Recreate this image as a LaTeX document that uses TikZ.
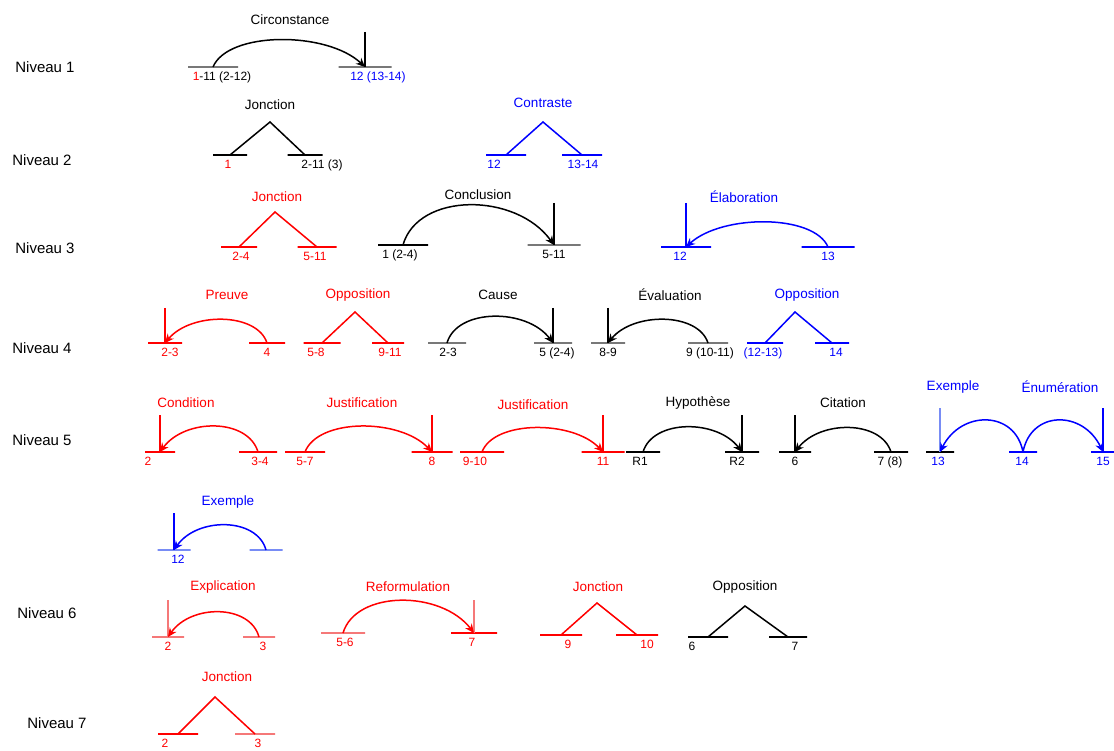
\documentclass[tikz,border=0pt]{standalone}
\usepackage{fontspec}
\setmainfont{Liberation Sans}
\usepackage{tikz}
\usetikzlibrary{arrows.meta}
\definecolor{lgray}{RGB}{120,120,120}
\definecolor{lred}{RGB}{245,120,120}
\definecolor{lblue}{RGB}{120,140,245}
\tikzset{
  lvl/.style={font=\fontsize{15}{17}\selectfont},
  rel/.style={font=\fontsize{13.5}{15}\selectfont},
  seg/.style={font=\fontsize{12}{14}\selectfont,anchor=north,inner sep=1pt},
  bar/.style={draw,line width=1.8pt,minimum width=#1,minimum height=0pt,inner sep=0pt},
  nuc/.style={line width=1.9pt},
  arc/.style={-{Stealth[length=9pt,width=8pt]},line width=1.5pt},
  tri/.style={line width=1.5pt},
}

\begin{document}
\begin{tikzpicture}[x=1pt,y=-1pt]
\useasboundingbox (0,0) rectangle (1114,751);

\node[lvl] (n1) at (45,67) {Niveau 1};
\node[lvl] (n2) at (42,160) {Niveau 2};
\node[lvl] (n3) at (45,248) {Niveau 3};
\node[lvl] (n4) at (42,348) {Niveau 4};
\node[lvl] (n5) at (42,440) {Niveau 5};
\node[lvl] (n6) at (47,613) {Niveau 6};
\node[lvl] (n7) at (57,723) {Niveau 7};

% niveau 1
\node[rel] (r1) at (290,20) {Circonstance};
\node[bar=50pt,lgray] (b1a) at (213,67) {};
\node[bar=53pt,lgray] (b1b) at (365,67) {};
\coordinate (v1) at (365,32);
\draw[nuc] (v1) -- (b1b.center);
\draw[arc] (b1a.center) .. controls +(15,-36) and +(-38,-36) .. (b1b.center);
\node[seg] (g1a) at (222,71) {\textcolor{red}{1}-11 (2-12)};
\node[seg,blue] (g1b) at (378,71) {12 (13-14)};

% niveau 2
\node[rel] (r2a) at (270,105) {Jonction};
\node[bar=34pt] (b2a) at (230,155) {};
\node[bar=35pt] (b2b) at (305,155) {};
\coordinate (p2a) at (270,122);
\draw[tri] (b2a.center) -- (p2a) -- (b2b.center);
\node[seg,red] (g2a) at (228,159) {1};
\node[seg] (g2b) at (322,159) {2-11 (3)};

\node[rel,blue] (r2b) at (543,103) {Contraste};
\node[bar=40pt,blue] (b2c) at (506,155) {};
\node[bar=40pt,blue] (b2d) at (582,155) {};
\coordinate (p2b) at (543,122);
\draw[tri,blue] (b2c.center) -- (p2b) -- (b2d.center);
\node[seg,blue] (g2c) at (494,159) {12};
\node[seg,blue] (g2d) at (583,159) {13-14};

% niveau 3
\node[rel,red] (r3a) at (277,197) {Jonction};
\node[bar=36pt,red] (b3a) at (239,247) {};
\node[bar=39pt,red] (b3b) at (317,247) {};
\coordinate (p3a) at (275,212);
\draw[tri,red] (b3a.center) -- (p3a) -- (b3b.center);
\node[seg,red] (g3a) at (241,251) {2-4};
\node[seg,red] (g3b) at (315,251) {5-11};

\node[rel] (r3b) at (478,195) {Conclusion};
\node[bar=50pt] (b3c) at (403,245) {};
\node[bar=53pt,lgray] (b3d) at (554,245) {};
\coordinate (v3b) at (554,203);
\draw[nuc] (v3b) -- (b3d.center);
\draw[arc] (b3c.center) .. controls +(15,-53) and +(-38,-53) .. (b3d.center);
\node[seg] (g3c) at (400,249) {1 (2-4)};
\node[seg] (g3d) at (554,249) {5-11};

\node[rel,blue] (r3c) at (744,197) {Élaboration};
\node[bar=50pt,blue] (b3e) at (686,247) {};
\node[bar=53pt,blue] (b3f) at (828,247) {};
\coordinate (v3c) at (686,203);
\draw[nuc,blue] (v3c) -- (b3e.center);
\draw[arc,blue] (b3f.center) .. controls +(-14,-33) and +(36,-33) .. (b3e.center);
\node[seg,blue] (g3e) at (680,251) {12};
\node[seg,blue] (g3f) at (828,251) {13};

% niveau 4
\node[rel,red] (r4a) at (227,295) {Preuve};
\node[bar=34pt,red] (b4a) at (165,343) {};
\node[bar=36pt,red] (b4b) at (267,343) {};
\coordinate (v4a) at (165,308);
\draw[nuc,red] (v4a) -- (b4a.center);
\draw[arc,red] (b4b.center) .. controls +(-10,-31) and +(26,-31) .. (b4a.center);
\node[seg,red] (g4a) at (170,347) {2-3};
\node[seg,red] (g4b) at (267,347) {4};

\node[rel,red] (r4b) at (358,295) {Opposition};
\node[bar=37pt,red] (b4c) at (322,343) {};
\node[bar=32pt,red] (b4d) at (388,343) {};
\coordinate (p4b) at (355,312);
\draw[tri,red] (b4c.center) -- (p4b) -- (b4d.center);
\node[seg,red] (g4c) at (316,347) {5-8};
\node[seg,red] (g4d) at (390,347) {9-11};

\node[rel] (r4c) at (498,295) {Cause};
\node[bar=38pt,lgray] (b4e) at (447,343) {};
\node[bar=38pt,lgray] (b4f) at (553,343) {};
\coordinate (v4c) at (553,308);
\draw[nuc] (v4c) -- (b4f.center);
\draw[arc] (b4e.center) .. controls +(10,-35) and +(-26,-35) .. (b4f.center);
\node[seg] (g4e) at (448,347) {2-3};
\node[seg] (g4f) at (557,347) {5 (2-4)};

\node[rel] (r4d) at (670,295) {Évaluation};
\node[bar=34pt,lgray] (b4g) at (608,343) {};
\node[bar=40pt,lgray] (b4h) at (708,343) {};
\coordinate (v4d) at (608,308);
\draw[nuc] (v4d) -- (b4g.center);
\draw[arc] (b4h.center) .. controls +(-10,-31) and +(25,-31) .. (b4g.center);
\node[seg] (g4g) at (608,347) {8-9};
\node[seg] (g4h) at (710,347) {9 (10-11)};

\node[rel,blue] (r4e) at (807,295) {Opposition};
\node[bar=36pt,blue] (b4i) at (765,343) {};
\node[bar=34pt,blue] (b4j) at (832,343) {};
\coordinate (p4e) at (795,312);
\draw[tri,blue] (b4i.center) -- (p4e) -- (b4j.center);
\node[seg,blue] (g4i) at (763,347) {(12-13)};
\node[seg,blue] (g4j) at (836,347) {14};

% niveau 5
\node[rel,red] (r5a) at (186,403) {Condition};
\node[bar=30pt,red] (b5a) at (160,452) {};
\node[bar=38pt,red] (b5b) at (258,452) {};
\coordinate (v5a) at (160,415);
\draw[nuc,red] (v5a) -- (b5a.center);
\draw[arc,red] (b5b.center) .. controls +(-10,-34) and +(25,-34) .. (b5a.center);
\node[seg,red] (g5a) at (148,456) {2};
\node[seg,red] (g5b) at (260,456) {3-4};

\node[rel,red] (r5b) at (362,403) {Justification};
\node[bar=40pt,red] (b5c) at (305,452) {};
\node[bar=41pt,red] (b5d) at (432,452) {};
\coordinate (v5b) at (432,415);
\draw[nuc,red] (v5b) -- (b5d.center);
\draw[arc,red] (b5c.center) .. controls +(13,-34) and +(-32,-34) .. (b5d.center);
\node[seg,red] (g5c) at (305,456) {5-7};
\node[seg,red] (g5d) at (432,456) {8};

\node[rel,red] (r5c) at (533,405) {Justification};
\node[bar=44pt,red] (b5e) at (482,452) {};
\node[bar=43pt,red] (b5f) at (603,452) {};
\coordinate (v5c) at (603,415);
\draw[nuc,red] (v5c) -- (b5f.center);
\draw[arc,red] (b5e.center) .. controls +(12,-32) and +(-30,-32) .. (b5f.center);
\node[seg,red] (g5e) at (475,456) {9-10};
\node[seg,red] (g5f) at (603,456) {11};

\node[rel] (r5d) at (698,403) {Hypothèse};
\node[bar=34pt] (b5g) at (643,452) {};
\node[bar=34pt] (b5h) at (742,452) {};
\coordinate (v5d) at (742,415);
\draw[nuc] (v5d) -- (b5h.center);
\draw[arc] (b5g.center) .. controls +(10,-33) and +(-25,-33) .. (b5h.center);
\node[seg] (g5g) at (640,456) {R1};
\node[seg] (g5h) at (737,456) {R2};

\node[rel] (r5e) at (843,403) {Citation};
\node[bar=32pt] (b5i) at (795,452) {};
\node[bar=34pt] (b5j) at (891,452) {};
\coordinate (v5e) at (795,415);
\draw[nuc] (v5e) -- (b5i.center);
\draw[arc] (b5j.center) .. controls +(-10,-32) and +(25,-32) .. (b5i.center);
\node[seg] (g5i) at (795,456) {6};
\node[seg] (g5j) at (890,456) {7 (8)};

\node[rel,blue] (r5f) at (953,387) {Exemple};
\node[rel,blue] (r5g) at (1060,387) {Énumération};
\node[bar=28pt] (b5k) at (940,452) {};
\node[bar=28pt,blue] (b5l) at (1023,452) {};
\node[bar=24pt,blue] (b5m) at (1103,452) {};
\coordinate (v5f) at (940,408);
\coordinate (v5g) at (1103,408);
\draw[nuc,lblue] (v5f) -- (b5k.center);
\draw[nuc,blue] (v5g) -- (b5m.center);
\draw[arc,blue] (b5l.center) .. controls +(-8,-42) and +(21,-42) .. (b5k.center);
\draw[arc,blue] (b5l.center) .. controls +(8,-42) and +(-20,-42) .. (b5m.center);
\node[seg,blue] (g5k) at (938,456) {13};
\node[seg,blue] (g5l) at (1022,456) {14};
\node[seg,blue] (g5m) at (1103,456) {15};

\node[rel,blue] (r5h) at (228,502) {Exemple};
\node[bar=33pt,lblue] (b5n) at (174,550) {};
\node[bar=33pt,lblue] (b5o) at (266,550) {};
\coordinate (v5h) at (174,513);
\draw[nuc,blue] (v5h) -- (b5n.center);
\draw[arc,blue] (b5o.center) .. controls +(-9,-33) and +(23,-33) .. (b5n.center);
\node[seg,blue] (g5n) at (178,554) {12};

% niveau 6
\node[rel,red] (r6a) at (223,587) {Explication};
\node[bar=32pt,lred] (b6a) at (168,637) {};
\node[bar=32pt,lred] (b6b) at (259,637) {};
\coordinate (v6a) at (168,600);
\draw[nuc,lred] (v6a) -- (b6a.center);
\draw[arc,red] (b6b.center) .. controls +(-9,-33) and +(23,-33) .. (b6a.center);
\node[seg,red] (g6a) at (168,641) {2};
\node[seg,red] (g6b) at (263,641) {3};

\node[rel,red] (r6b) at (408,587) {Reformulation};
\node[bar=44pt,lred] (b6c) at (343,633) {};
\node[bar=46pt,red] (b6d) at (474,633) {};
\coordinate (v6b) at (474,600);
\draw[nuc,lred] (v6b) -- (b6d.center);
\draw[arc,red] (b6c.center) .. controls +(13,-43) and +(-33,-43) .. (b6d.center);
\node[seg,red] (g6c) at (345,637) {5-6};
\node[seg,red] (g6d) at (472,637) {7};

\node[rel,red] (r6c) at (598,587) {Jonction};
\node[bar=42pt,red] (b6e) at (561,635) {};
\node[bar=42pt,red] (b6f) at (637,635) {};
\coordinate (p6c) at (597,603);
\draw[tri,red] (b6e.center) -- (p6c) -- (b6f.center);
\node[seg,red] (g6e) at (568,639) {9};
\node[seg,red] (g6f) at (647,639) {10};

\node[rel] (r6d) at (745,587) {Opposition};
\node[bar=40pt] (b6g) at (708,637) {};
\node[bar=38pt] (b6h) at (788,637) {};
\coordinate (p6d) at (745,606);
\draw[tri] (b6g.center) -- (p6d) -- (b6h.center);
\node[seg] (g6g) at (692,641) {6};
\node[seg] (g6h) at (795,641) {7};

% niveau 7
\node[rel,red] (r7) at (227,677) {Jonction};
\node[bar=40pt,red] (b7a) at (178,734) {};
\node[bar=40pt,lred] (b7b) at (255,734) {};
\coordinate (p7) at (215,697);
\draw[tri,red] (b7a.center) -- (p7) -- (b7b.center);
\node[seg,red] (g7a) at (165,738) {2};
\node[seg,red] (g7b) at (258,738) {3};
\end{tikzpicture}
\end{document}
